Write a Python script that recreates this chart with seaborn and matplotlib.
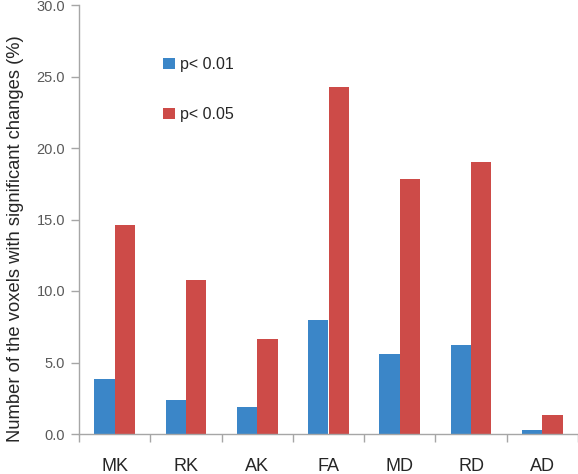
import pandas as pd
import numpy as np
import matplotlib.pyplot as plt
import seaborn as sns

# values (%)
categories = ['MK', 'RK', 'AK', 'FA', 'MD', 'RD', 'AD']
p001 = [3.85, 2.35, 1.9, 7.97, 5.6, 6.25, 0.3]
p005 = [14.6, 10.8, 6.65, 24.25, 17.8, 19.0, 1.3]
groups = ['p< 0.01', 'p< 0.05']

df = pd.DataFrame({
    'cat': categories * 2,
    'val': p001 + p005,
    'grp': [groups[0]] * len(categories) + [groups[1]] * len(categories),
})

sns.set_style('white')
plt.rcParams['font.family'] = ['Liberation Sans', 'DejaVu Sans']

fig = plt.figure(figsize=(5.78, 4.74), dpi=100)
ax = fig.add_axes([79 / 578, 40 / 474, 1 - 79 / 578, 429 / 474])

pal = {'p< 0.01': '#3b86c8', 'p< 0.05': '#cd4b48'}
sns.barplot(data=df, x='cat', y='val', hue='grp', palette=pal, width=0.57,
            linewidth=0, saturation=1, ax=ax)

ax.set_ylim(0, 30)
ax.set_xlim(-0.5, 6.4)
ax.set_yticks(np.arange(0, 31, 5))
ax.set_yticklabels([f'{v:.1f}' for v in np.arange(0, 31, 5)], fontsize=10.5, color='#595959')
ax.set_xticks(np.arange(-0.5, 7, 1), minor=True)
ax.tick_params(axis='x', which='major', length=0, pad=17, labelsize=13, labelcolor='#262626')
ax.tick_params(axis='x', which='minor', length=6, width=1, color='#a6a6a6', direction='out', bottom=True)
ax.tick_params(axis='y', length=6, width=1, color='#a6a6a6', direction='out', left=True, pad=4)

for s in ['top', 'right']:
    ax.spines[s].set_visible(False)
for s in ['left', 'bottom']:
    ax.spines[s].set_color('#a6a6a6')
    ax.spines[s].set_linewidth(1)

ax.set_xlabel('')
ax.set_ylabel('Number of the voxels with significant changes (%)', fontsize=13.2, color='#262626')
ax.yaxis.set_label_coords(-55 / 499, 0.456)

h, l = ax.get_legend_handles_labels()
ax.legend(h, l, loc='upper left', bbox_to_anchor=(149 / 578, 1 - 43 / 474),
          bbox_transform=fig.transFigure, frameon=False, fontsize=11.5,
          handlelength=0.7, handleheight=0.7, handletextpad=0.35, labelspacing=2.15,
          labelcolor='#262626')

fig.savefig('out.png', dpi=100)
